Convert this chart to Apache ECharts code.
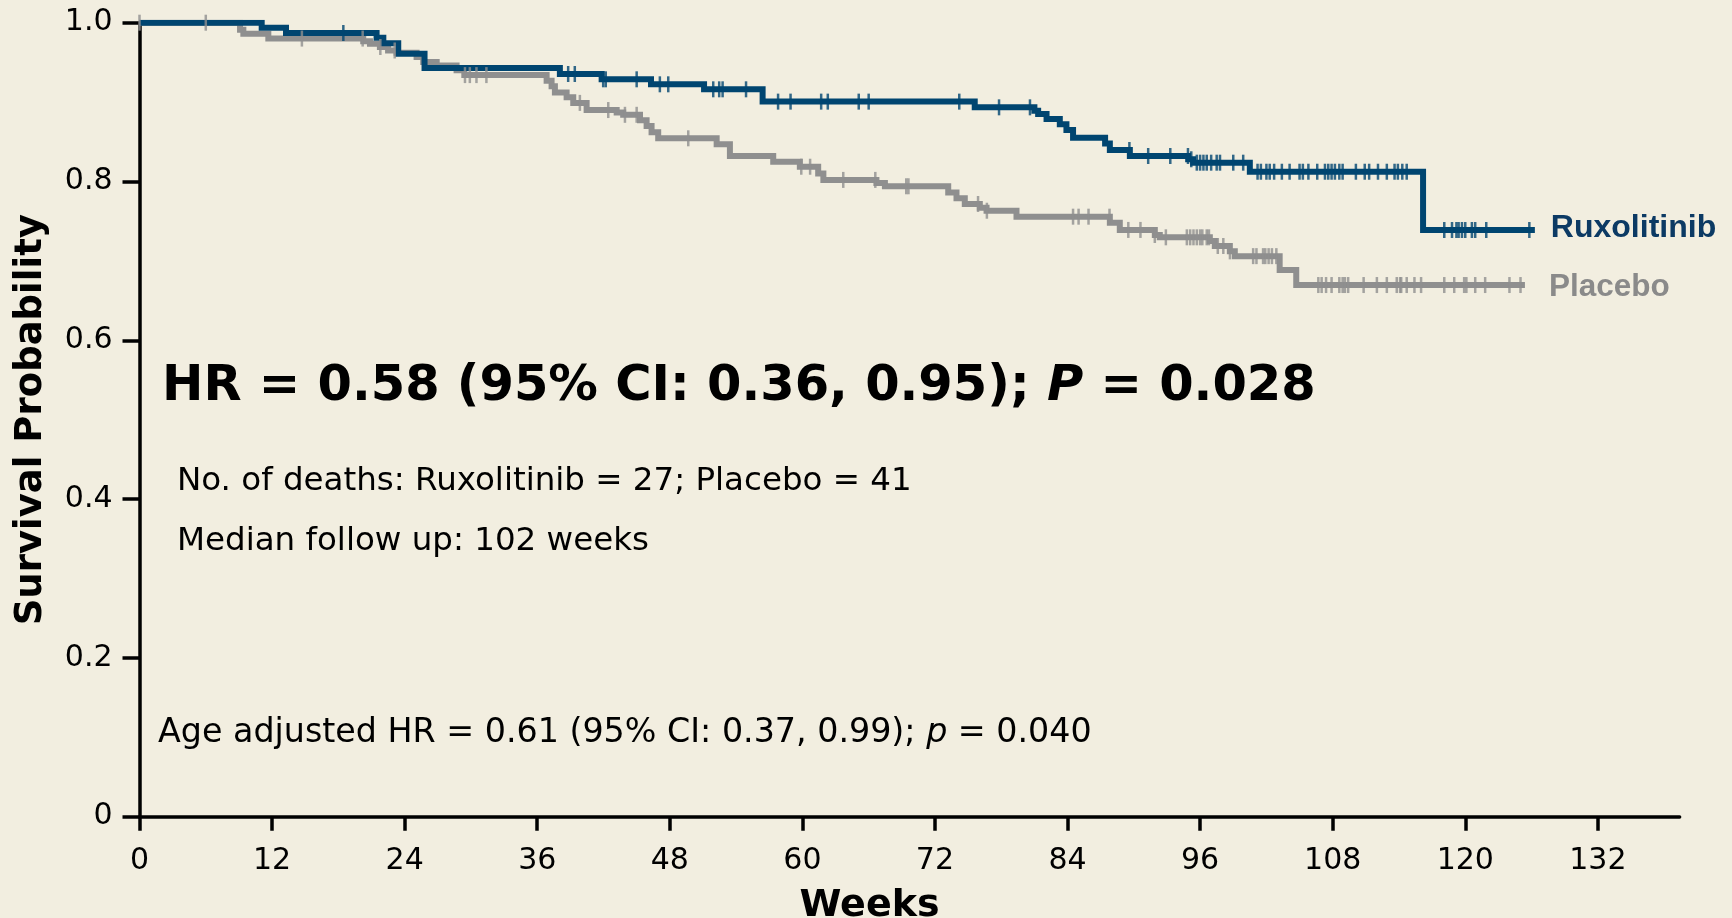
<!DOCTYPE html>
<html>
<head>
<meta charset="utf-8">
<script src="https://cdn.jsdelivr.net/npm/echarts@6/dist/echarts.min.js"></script>
<style>
  html, body { margin: 0; padding: 0; background: #f2eee0; }
  #chart { width: 1732px; height: 918px; }
</style>
</head>
<body>
<div id="chart"></div>
<script>
// ---- Data ----
const weekTicks = [0, 12, 24, 36, 48, 60, 72, 84, 96, 108, 120, 132];
const survTicks = [0, 0.2, 0.4, 0.6, 0.8, 1.0];

// Kaplan-Meier steps: [week, survival after the event]
const ruxSteps = [
  [0, 1.0], [11.06, 0.9937], [13.26, 0.987], [21.46, 0.981], [22.07, 0.974],
  [23.42, 0.961], [25.8, 0.943], [38.05, 0.9354], [41.83, 0.9287], [46.3, 0.9224],
  [51.1, 0.9161], [56.4, 0.9006], [75.6, 0.8934], [81.0, 0.889], [81.34, 0.885],
  [82.1, 0.8787], [83.3, 0.872], [83.9, 0.865], [84.5, 0.8552], [87.4, 0.848],
  [87.83, 0.8397], [89.64, 0.8321], [94.92, 0.828], [95.37, 0.8237], [100.5, 0.8123],
  [116.18, 0.7389], [126.3, 0.7389]
];
const placeboSteps = [
  [0, 1.0], [9.1, 0.991], [9.4, 0.986], [11.66, 0.980], [20.25, 0.9766],
  [20.86, 0.9736], [21.76, 0.9694], [22.5, 0.965], [23.27, 0.962], [25.08, 0.9568],
  [25.68, 0.9505], [26.9, 0.946], [28.7, 0.9401], [29.4, 0.934], [36.85, 0.927],
  [37.3, 0.92], [37.6, 0.912], [38.66, 0.906], [39.26, 0.899], [40.47, 0.890],
  [43.19, 0.887], [43.78, 0.884], [45.3, 0.877], [45.9, 0.870], [46.35, 0.862],
  [46.95, 0.8544], [52.24, 0.847], [53.44, 0.832], [57.36, 0.825], [59.77, 0.8186],
  [61.43, 0.81], [61.9, 0.802], [66.7, 0.798], [67.47, 0.794], [73.2, 0.786],
  [73.95, 0.779], [74.7, 0.7717], [76.06, 0.767], [76.67, 0.7632], [79.38, 0.7557],
  [87.83, 0.748], [88.73, 0.739], [91.9, 0.7326], [92.35, 0.7297], [96.88, 0.725],
  [97.33, 0.7188], [98.69, 0.712], [99.14, 0.706], [103.2, 0.6886], [104.7, 0.6696],
  [125.4, 0.6696]
];

// Censoring times (weeks)
const ruxCensored = [
  18.45, 38.8, 39.4, 41.97, 42.2, 45.0, 47.1, 47.86, 51.93, 52.47, 52.78, 54.9, 57.8,
  58.93, 61.7, 62.3, 65.1, 66.0, 74.2, 77.8, 80.6, 89.6, 91.3, 93.3, 94.9, 95.2, 95.7,
  96.0, 96.3, 96.6, 97.0, 97.5, 97.8, 99.0, 99.9, 101.2, 101.5, 102.0, 102.3, 102.7,
  103.4, 104.1, 105.0, 105.3, 105.8, 106.6, 107.3, 107.6, 107.9, 108.2, 108.6, 108.9,
  110.1, 110.9, 111.3, 112.1, 112.9, 113.6, 113.9, 114.3, 114.7, 118.1, 118.8, 119.2,
  119.4, 119.7, 120.0, 120.6, 120.9, 121.9, 125.8
];
const placeboCensored = [
  0, 6.0, 14.7, 20.2, 21.8, 23.1, 29.46, 29.9, 30.5, 31.4, 39.86, 42.43, 43.94, 45.0,
  49.67, 59.9, 60.7, 63.7, 66.6, 69.4, 69.6, 75.9, 76.7, 84.5, 85.0, 85.9, 87.8, 89.5,
  90.6, 91.9, 92.9, 94.8, 95.1, 95.4, 95.7, 96.0, 96.2, 96.6, 96.8, 97.6, 98.1, 98.7,
  100.8, 101.1, 101.7, 101.9, 102.2, 102.5, 102.9, 106.7, 107.0, 107.4, 107.9, 108.6,
  108.9, 109.1, 109.4, 110.8, 112.0, 112.9, 113.8, 114.1, 114.2, 114.7, 115.4, 116.0,
  118.1, 119.0, 119.9, 120.1, 120.9, 121.8, 124.0, 125.0
];

const hrText = 'HR = 0.58 (95% CI: 0.36, 0.95); ';
const hrP = 'P';
const hrPval = ' = 0.028';
const deathsText = 'No. of deaths: Ruxolitinib = 27; Placebo = 41';
const followText = 'Median follow up: 102 weeks';
const ageText1 = 'Age adjusted HR = 0.61 (95% CI: 0.37, 0.99); ';
const ageP = 'p';
const ageText2 = ' = 0.040';

// ---- Styling ----
const BLUE = '#004570';
const GRAY = '#8f8f8f';
const BG = '#f2eee0';
const FONT = 'DejaVu Sans';

function levelAt(steps, t) {
  let v = steps[0][1];
  for (const s of steps) { if (s[0] <= t) v = s[1]; else break; }
  return v;
}

const chart = echarts.init(document.getElementById('chart'), null, { renderer: 'canvas' });

chart.setOption({
  animation: false,
  backgroundColor: BG,
  grid: { left: 139.5, right: 52.4, top: 22.7, bottom: 101.3, outerBoundsMode: 'none' },
  xAxis: {
    type: 'value', min: 0, max: 139.4, interval: 12,
    axisLine: { show: true, lineStyle: { color: '#000', width: 3.5 } },
    axisTick: { show: true, length: 14, customValues: weekTicks, lineStyle: { color: '#000', width: 3.5 } },
    axisLabel: { customValues: weekTicks, fontSize: 30, color: '#000', fontFamily: FONT, margin: 30 },
    splitLine: { show: false },
    name: 'Weeks', nameLocation: 'middle', nameGap: 70,
    nameTextStyle: { fontSize: 38, fontWeight: 'bold', color: '#000', fontFamily: FONT, padding: [0, 80, 0, 0] }
  },
  yAxis: {
    type: 'value', min: 0, max: 1, interval: 0.2,
    axisLine: { show: true, lineStyle: { color: '#000', width: 3.5 } },
    axisTick: { show: true, length: 17, customValues: survTicks, lineStyle: { color: '#000', width: 3.5 } },
    axisLabel: {
      customValues: survTicks, fontSize: 30, color: '#000', fontFamily: FONT, margin: 27,
      formatter: v => (v === 0 ? '0' : v.toFixed(1))
    },
    splitLine: { show: false },
    name: 'Survival Probability', nameLocation: 'middle', nameGap: 90,
    nameTextStyle: { fontSize: 37, fontWeight: 'bold', color: '#000', fontFamily: FONT }
  },
  graphic: [
    {
      type: 'text', x: 162, y: 387,
      style: {
        text: '{b|' + hrText + '}{i|' + hrP + '}{b|' + hrPval + '}',
        verticalAlign: 'middle', align: 'left',
        rich: {
          b: { fontSize: 49.5, fontWeight: 'bold', fontFamily: FONT, fill: '#000' },
          i: { fontSize: 49.5, fontWeight: 'bold', fontStyle: 'italic', fontFamily: FONT, fill: '#000' }
        }
      }
    },
    {
      type: 'text', x: 177, y: 482,
      style: { text: deathsText, fontSize: 32.5, fontFamily: FONT, fill: '#000', verticalAlign: 'middle', align: 'left' }
    },
    {
      type: 'text', x: 177, y: 542,
      style: { text: followText, fontSize: 32.5, fontFamily: FONT, fill: '#000', verticalAlign: 'middle', align: 'left' }
    },
    {
      type: 'text', x: 158, y: 733,
      style: {
        text: '{r|' + ageText1 + '}{i|' + ageP + '}{r|' + ageText2 + '}',
        verticalAlign: 'middle', align: 'left',
        rich: {
          r: { fontSize: 33.3, fontFamily: FONT, fill: '#000' },
          i: { fontSize: 33.3, fontStyle: 'italic', fontFamily: FONT, fill: '#000' }
        }
      }
    }
  ],
  series: [
    {
      name: 'Placebo', type: 'line', step: 'end', data: placeboSteps,
      showSymbol: false, symbol: 'none',
      lineStyle: { color: GRAY, width: 6, cap: 'butt', join: 'miter' },
      endLabel: {
        show: true, formatter: '{a}', distance: 24, offset: [0, 2],
        color: '#8a8a8a', fontSize: 31.5, fontWeight: 'bold', fontFamily: 'Liberation Sans'
      },
      z: 2
    },
    {
      name: 'Ruxolitinib', type: 'line', step: 'end', data: ruxSteps,
      showSymbol: false, symbol: 'none',
      lineStyle: { color: BLUE, width: 6, cap: 'butt', join: 'miter' },
      endLabel: {
        show: true, formatter: '{a}', distance: 16, offset: [0, -2],
        color: '#0c3a64', fontSize: 32, fontWeight: 'bold', fontFamily: 'Liberation Sans'
      },
      z: 3
    },
    {
      name: 'Placebo censored', type: 'scatter',
      data: placeboCensored.map(t => [t, levelAt(placeboSteps, t)]),
      symbol: 'rect', symbolSize: [2.5, 16],
      itemStyle: { color: GRAY }, z: 4
    },
    {
      name: 'Ruxolitinib censored', type: 'scatter',
      data: ruxCensored.map(t => [t, levelAt(ruxSteps, t)]),
      symbol: 'rect', symbolSize: [2.5, 16],
      itemStyle: { color: BLUE }, z: 5
    }
  ]
});
</script>
</body>
</html>
